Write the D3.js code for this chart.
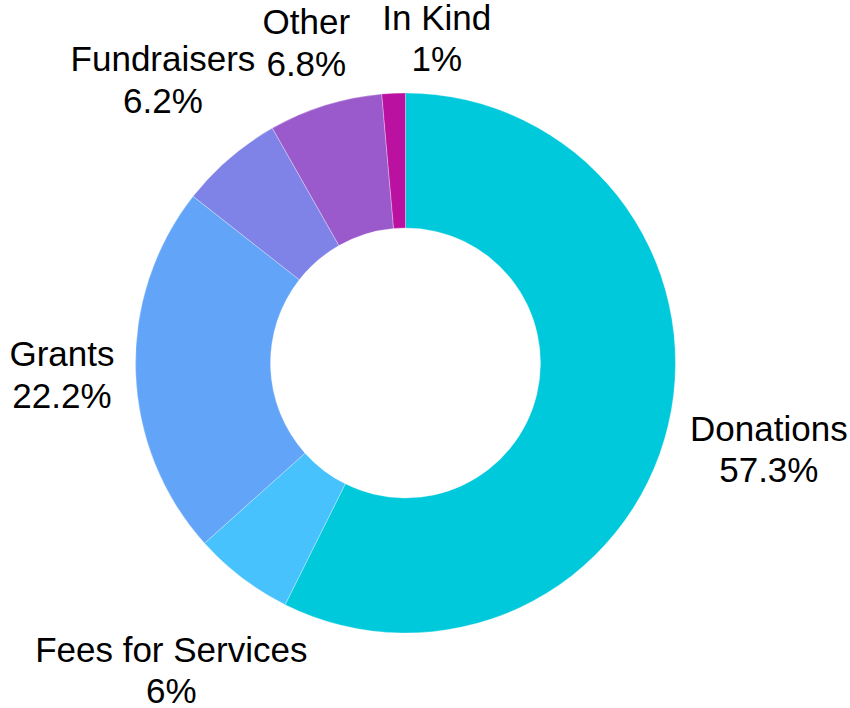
<!DOCTYPE html>
<html>
<head>
<meta charset="utf-8">
<script src="https://cdn.jsdelivr.net/npm/d3@7"></script>
<style>
  html, body { margin: 0; padding: 0; background: #ffffff; }
  svg { display: block; }
  text { font-family: "Liberation Sans", Arial, sans-serif; }
</style>
</head>
<body>
<svg id="chart" width="850" height="708"></svg>
<script>
// ---- data ----
const categories = ["Donations", "Fees for Services", "Grants", "Fundraisers", "Other", "In Kind"];
const shares     = [57.3, 6.0, 22.2, 6.2, 6.8, 1.4];
const pctLabels  = ["57.3%", "6%", "22.2%", "6.2%", "6.8%", "1%"];

// ---- styling / layout ----
const colors = ["#00C9DC", "#47C2FC", "#62A4F8", "#7F82E6", "#9B5ACB", "#BA11A0"];
// label shift (px) from the slice's outer mid point to the label-block centre
const labelShift = [[100.5, 25.3], [-70.6, 93.2], [-73.7, 3.6], [-66.4, -78.2], [-18.9, -61.6], [43.2, -54.3]];

const W = 850, H = 708;
const cx = 405.5, cy = 363;
const outerR = 270, innerR = 135;
const fontSize = 35, lineGap = 41.5;

const svg = d3.select("#chart");
const g = svg.append("g").attr("transform", `translate(${cx},${cy})`);

const data = categories.map((c, i) => ({ name: c, value: shares[i], label: pctLabels[i], i }));

const pie = d3.pie().sort(null).value(d => d.value).startAngle(0).endAngle(2 * Math.PI);
const arcs = pie(data);

const arc = d3.arc().innerRadius(innerR).outerRadius(outerR);
const outerPt = d3.arc().innerRadius(outerR).outerRadius(outerR);

g.selectAll("path.slice")
  .data(arcs)
  .enter().append("path")
  .attr("class", "slice")
  .attr("d", arc)
  .attr("fill", d => colors[d.data.i])
  .attr("stroke", "#ffffff")
  .attr("stroke-opacity", 0.5)
  .attr("stroke-width", 0.6);

const labels = g.selectAll("text.lbl")
  .data(arcs)
  .enter().append("text")
  .attr("class", "lbl")
  .attr("text-anchor", "middle")
  .attr("font-size", fontSize)
  .attr("fill", "#000000")
  .attr("transform", d => {
    const p = outerPt.centroid(d);
    const s = labelShift[d.data.i];
    return `translate(${p[0] + s[0]},${p[1] + s[1]})`;
  });

labels.append("tspan")
  .attr("x", 0)
  .attr("y", -lineGap / 2 + 11.6)
  .text(d => d.data.name);
labels.append("tspan")
  .attr("x", 0)
  .attr("y", lineGap / 2 + 11.6)
  .text(d => d.data.label);
</script>
</body>
</html>
